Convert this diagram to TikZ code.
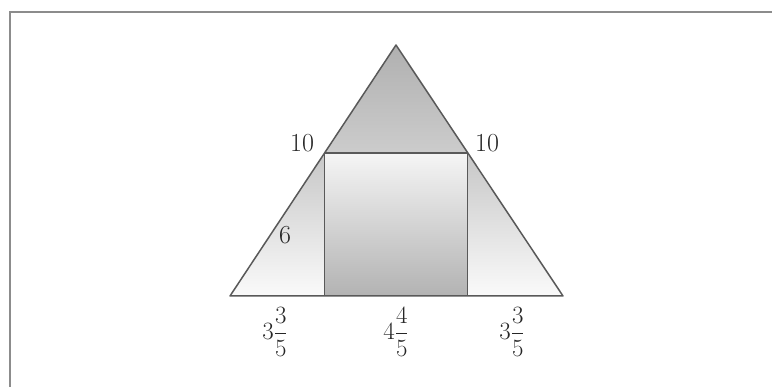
\documentclass[tikz,border=0pt]{standalone}
\usepackage{amsmath}
\tikzset{
  edge/.style={draw=black!65, line width=1.5pt, line join=round},
  frame/.style={draw=black!45, line width=2pt},
  lbl/.style={inner sep=0pt, font=\fontsize{26}{30}\selectfont, text=black!85}
}
\begin{document}
\begin{tikzpicture}[x=1pt,y=1pt]
\useasboundingbox (0,0) rectangle (772,387);
% frame
\draw[frame] (9.5,0) -- (9.5,374.5) -- (772,374.5);
% points
\coordinate (A) at (396,342);
\coordinate (BL) at (230,91);
\coordinate (BR) at (563,91);
\coordinate (P) at (324.5,234);
\coordinate (Q) at (467.5,234);
\coordinate (P0) at (324.5,91);
\coordinate (Q0) at (467.5,91);
% fills
\shade[top color=black!31, bottom color=black!20] (A) -- (P) -- (Q) -- cycle;
\shade[top color=black!4, bottom color=black!30] (P) -- (Q) -- (Q0) -- (P0) -- cycle;
\shade[top color=black!22, bottom color=black!2] (P) -- (P0) -- (BL) -- cycle;
\shade[top color=black!22, bottom color=black!2] (Q) -- (Q0) -- (BR) -- cycle;
% edges
\draw[edge] (A) -- (BL) -- (BR) -- cycle;
\draw[edge] (P) -- (Q);
\draw[edge] (P) -- (P0);
\draw[edge] (Q) -- (Q0);
% labels
\node[lbl] (l10a) at (302,244) {10};
\node[lbl] (l10b) at (487,244) {10};
\node[lbl] (l6) at (285,152) {6};
\node[lbl] (f1) at (275,55) {$3\dfrac{3}{5}$};
\node[lbl] (f2) at (396,55) {$4\dfrac{4}{5}$};
\node[lbl] (f3) at (512,55) {$3\dfrac{3}{5}$};
\end{tikzpicture}
\end{document}
